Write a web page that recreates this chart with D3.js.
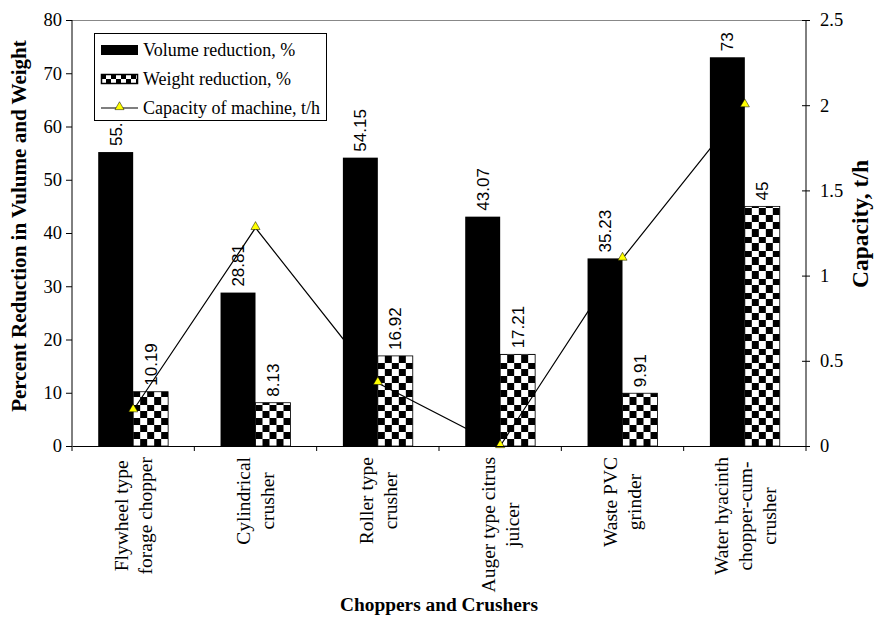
<!DOCTYPE html>
<html><head><meta charset="utf-8">
<script src="https://cdn.jsdelivr.net/npm/d3@7"></script>
<style>body{margin:0;background:#fff}svg{display:block}</style>
</head><body>
<script>
const categories = [
  ["Flywheel type","forage chopper"],
  ["Cylindrical","crusher"],
  ["Roller type","crusher"],
  ["Auger type citrus","juicer"],
  ["Waste PVC","grinder"],
  ["Water hyacinth","chopper-cum-","crusher"]
];
const volumeReduction = [55.2, 28.81, 54.15, 43.07, 35.23, 73];
const volumeLabels = ["55.", "28.81", "54.15", "43.07", "35.23", "73"];
const weightReduction = [10.19, 8.13, 16.92, 17.21, 9.91, 45];
const capacity = [0.21, 1.28, 0.37, 0.0, 1.1, 2.0];
const leftTicks = [0,10,20,30,40,50,60,70,80];
const rightTicks = [0,0.5,1,1.5,2,2.5];
const seriesNames = ["Volume reduction, %","Weight reduction, %","Capacity of machine, t/h"];

const W=875,H=625;
const m={l:72,r:806,t:20,b:446};
const SERIF='"Liberation Serif"';
const SANS='"Liberation Sans"';
const svg=d3.select("body").append("svg").attr("width",W).attr("height",H);
const defs=svg.append("defs");

const x=d3.scaleBand().domain(d3.range(categories.length)).range([m.l,m.r]).paddingInner(0).paddingOuter(0);
const yL=d3.scaleLinear().domain([0,80]).range([m.b,m.t]);
const yR=d3.scaleLinear().domain([0,2.5]).range([m.b,m.t]);
const bw=x.bandwidth()/3.5;
const off=bw*0.75;

svg.append("line").attr("x1",m.l).attr("x2",m.r).attr("y1",m.t+0.5).attr("y2",m.t+0.5).attr("stroke","#888").attr("stroke-width",1);

function checker(id,x0,y0,s){
  const p=defs.append("pattern").attr("id",id).attr("patternUnits","userSpaceOnUse")
    .attr("x",x0).attr("y",y0).attr("width",2*s).attr("height",2*s);
  p.append("rect").attr("width",2*s).attr("height",2*s).attr("fill","#fff");
  p.append("rect").attr("width",s).attr("height",s).attr("fill","#000");
  p.append("rect").attr("x",s).attr("y",s).attr("width",s).attr("height",s).attr("fill","#000");
}

svg.append("g").selectAll("rect").data(volumeReduction).join("rect")
  .attr("x",(d,i)=>x(i)+off).attr("width",bw)
  .attr("y",d=>yL(d)).attr("height",d=>yL(0)-yL(d)).attr("fill","#000");

weightReduction.forEach((d,i)=>{
  const bx=x(i)+off+bw;
  checker("chk"+i,bx,yL(0),7);
  svg.append("rect").attr("x",bx).attr("width",bw).attr("y",yL(d)).attr("height",yL(0)-yL(d))
    .attr("fill","url(#chk"+i+")").attr("stroke","#000").attr("stroke-width",0.8);
});

function vlabel(px,py,t){
  svg.append("text").attr("transform",`translate(${px},${py}) rotate(-90)`)
    .attr("dy","0.35em").style("font-family",SANS).style("font-size","17px").attr("fill","#000").text(t);
}
volumeReduction.forEach((d,i)=>vlabel(x(i)+off+bw/2,yL(d)-6,volumeLabels[i]));
weightReduction.forEach((d,i)=>vlabel(x(i)+off+bw*1.5,yL(d)-6,String(d)));

const line=d3.line().x((d,i)=>x(i)+x.bandwidth()/2).y(d=>yR(d));
svg.append("path").datum(capacity).attr("d",line).attr("fill","none").attr("stroke","#000").attr("stroke-width",1.2);
const tri=d3.symbol().type(d3.symbolTriangle).size(36);
svg.append("g").selectAll("path").data(capacity).join("path")
  .attr("transform",(d,i)=>`translate(${x(i)+x.bandwidth()/2},${yR(d)-1})`)
  .attr("d",tri).attr("fill","#ffff00").attr("stroke","#000").attr("stroke-width",0.5);

const axL=svg.append("g").attr("transform",`translate(${m.l},0)`).call(d3.axisLeft(yL).tickValues(leftTicks).tickSize(6).tickPadding(4));
const axR=svg.append("g").attr("transform",`translate(${m.r},0)`).call(d3.axisRight(yR).tickValues(rightTicks).tickSize(4).tickPadding(10).tickFormat(d=>String(d)));
axR.selectAll(".tick line").attr("x1",-4).attr("x2",4);
const axB=svg.append("g").attr("transform",`translate(0,${m.b})`).call(d3.axisBottom(x).tickValues([]).tickSizeOuter(0));
[axL,axR,axB].forEach(a=>{
  a.select(".domain").attr("stroke","#000");a.selectAll(".tick line").attr("stroke","#000");
  a.selectAll("text").style("font-family",SERIF).style("font-size","18.5px").attr("fill","#000");});
axL.select(".domain").attr("d",`M0,${m.t}V${m.b}`);
axR.select(".domain").attr("d",`M0,${m.t}V${m.b}`);
const sepG=svg.append("g");
d3.range(categories.length+1).forEach(i=>{
  const px=i<categories.length?x(i):m.r;
  sepG.append("line").attr("x1",px).attr("x2",px).attr("y1",m.b).attr("y2",m.b+5).attr("stroke","#000");
});

categories.forEach((lines,i)=>{
  const cx=x(i)+x.bandwidth()/2;
  const g=svg.append("g");
  const ts=lines.map((t,j)=>g.append("text").style("font-family",SERIF).style("font-size","19.5px").attr("text-anchor","middle").attr("fill","#000").text(t));
  const maxW=d3.max(ts,t=>t.node().getComputedTextLength());
  const sp=24, n=lines.length;
  ts.forEach((t,j)=>{
    const px=cx+(j-(n-1)/2)*sp;
    t.attr("transform",`translate(${px},${457+maxW/2}) rotate(-90)`).attr("dy","0.35em");
  });
});

function fitTitle(sel,target){
  const len=sel.node().getComputedTextLength();
  sel.style("font-size",(20*target/len).toFixed(2)+"px");
}
const tB=svg.append("text").attr("x",439).attr("y",611).attr("text-anchor","middle")
  .style("font-family",SERIF).style("font-weight","bold").style("font-size","20px").text("Choppers and Crushers");
fitTitle(tB,198);
const tL=svg.append("text").attr("transform",`translate(26,226) rotate(-90)`).attr("text-anchor","middle")
  .style("font-family",SERIF).style("font-weight","bold").style("font-size","20px").text("Percent Reduction in Vulume and Weight");
fitTitle(tL,372);
const tR=svg.append("text").attr("transform",`translate(868,224) rotate(-90)`).attr("text-anchor","middle")
  .style("font-family",SERIF).style("font-weight","bold").style("font-size","20px").text("Capacity, t/h");
fitTitle(tR,128);

const lg=svg.append("g");
lg.append("rect").attr("x",94.5).attr("y",33.5).attr("width",232).attr("height",87).attr("fill","#fff").attr("stroke","#000").attr("stroke-width",1);
const rows=[50,79,108];
checker("chkL",101,rows[1]-5,5);
lg.append("rect").attr("x",101).attr("y",rows[0]-5).attr("width",37).attr("height",10).attr("fill","#000");
lg.append("rect").attr("x",101.5).attr("y",rows[1]-4.5).attr("width",36).attr("height",9).attr("fill","url(#chkL)").attr("stroke","#000").attr("stroke-width",1.5);
lg.append("line").attr("x1",101).attr("x2",138).attr("y1",rows[2]).attr("y2",rows[2]).attr("stroke","#000").attr("stroke-width",1.2);
lg.append("path").attr("transform",`translate(119.5,${rows[2]-1})`).attr("d",tri).attr("fill","#ffff00").attr("stroke","#000").attr("stroke-width",0.5);
seriesNames.forEach((s,j)=>lg.append("text").attr("x",143).attr("y",rows[j]).attr("dy","0.35em")
  .style("font-family",SERIF).style("font-size","18px").attr("fill","#000").text(s));
</script>
</body></html>
